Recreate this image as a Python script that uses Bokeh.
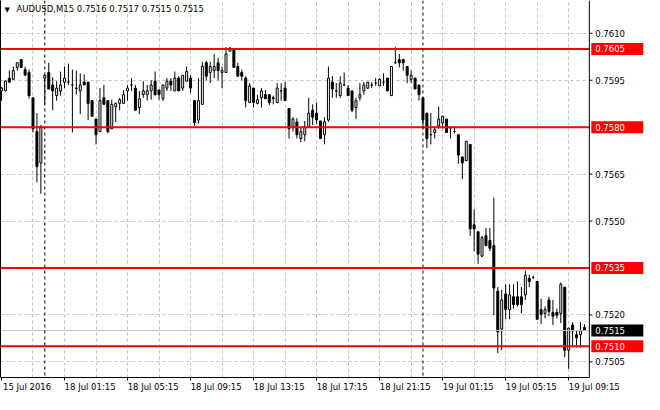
from bokeh.plotting import figure
from bokeh.models import Range1d, FixedTicker, LinearAxis, Span, Label, ColumnDataSource
from bokeh.core.properties import value
from bokeh.embed import file_html
from bokeh.resources import INLINE

symbol = "AUDUSD,M15"

# M15 bars, 15 Jul 2016 21:15 .. 19 Jul 2016 10:15
open_ = [0.75916, 0.75916, 0.75957, 0.75953, 0.75991, 0.76016, 0.75984, 0.75975, 0.75894, 0.75786,
         0.75686, 0.75957, 0.75975, 0.75935, 0.75901, 0.75916, 0.75944, 0.75944, 0.75935, 0.75925,
         0.75916, 0.75944, 0.75944, 0.75885, 0.75826, 0.75786, 0.75894, 0.75885, 0.75795, 0.75866,
         0.75876, 0.75876, 0.75916, 0.75935, 0.75925, 0.75863, 0.75904, 0.75904, 0.75916, 0.75947,
         0.75919, 0.75891, 0.75925, 0.75947, 0.75916, 0.75957, 0.75925, 0.75947, 0.75957, 0.75885,
         0.75823, 0.75873, 0.76006, 0.75975, 0.75981, 0.76006, 0.75975, 0.75975, 0.76043, 0.76047,
         0.75994, 0.75975, 0.75957, 0.75879, 0.75925, 0.75876, 0.75894, 0.75904, 0.75904, 0.75894,
         0.75879, 0.75916, 0.75925, 0.75860, 0.75801, 0.75817, 0.75764, 0.75776, 0.75801, 0.75854,
         0.75845, 0.75820, 0.75776, 0.75823, 0.75944, 0.75916, 0.75901, 0.75935, 0.75925, 0.75916,
         0.75863, 0.75894, 0.75916, 0.75925, 0.75935, 0.75941, 0.75932, 0.75944, 0.75957, 0.75901,
         0.76006, 0.76016, 0.76016, 0.75994, 0.75953, 0.75957, 0.75935, 0.75894, 0.75845, 0.75776,
         0.75783, 0.75804, 0.75814, 0.75826, 0.75798, 0.75786, 0.75776, 0.75705, 0.75693, 0.75745,
         0.75488, 0.75466, 0.75388, 0.75453, 0.75438, 0.75422, 0.75276, 0.75155, 0.75267, 0.75217,
         0.75258, 0.75258, 0.75258, 0.75264, 0.75317, 0.75320, 0.75307, 0.75217, 0.75205, 0.75248,
         0.75208, 0.75208, 0.75205, 0.75289, 0.75087, 0.75168, 0.75137, 0.75137, 0.75160]
high = [0.75929, 0.75950, 0.75981, 0.75994, 0.76006, 0.76016, 0.75994, 0.75984, 0.75894, 0.75845,
        0.75804, 0.75966, 0.76006, 0.75960, 0.75947, 0.75978, 0.75994, 0.76003, 0.75984, 0.75981,
        0.75972, 0.75969, 0.75944, 0.75885, 0.75826, 0.75925, 0.75935, 0.75885, 0.75888, 0.75879,
        0.75894, 0.75919, 0.75935, 0.75957, 0.75935, 0.75916, 0.75947, 0.75935, 0.75950, 0.75978,
        0.75919, 0.75935, 0.75957, 0.75957, 0.75978, 0.75963, 0.75966, 0.75994, 0.75966, 0.75885,
        0.75957, 0.76009, 0.76012, 0.76009, 0.76034, 0.76022, 0.75994, 0.76056, 0.76056, 0.76047,
        0.76006, 0.75984, 0.75963, 0.75941, 0.75925, 0.75904, 0.75925, 0.75919, 0.75904, 0.75901,
        0.75941, 0.75941, 0.75944, 0.75860, 0.75832, 0.75829, 0.75801, 0.75820, 0.75894, 0.75873,
        0.75879, 0.75820, 0.75832, 0.75994, 0.75963, 0.75941, 0.75963, 0.75975, 0.75935, 0.75916,
        0.75894, 0.75941, 0.75944, 0.75944, 0.75944, 0.75957, 0.75957, 0.75972, 0.75957, 0.75994,
        0.76056, 0.76034, 0.76019, 0.75994, 0.75981, 0.75957, 0.75935, 0.75894, 0.75845, 0.75845,
        0.75804, 0.75866, 0.75835, 0.75826, 0.75804, 0.75804, 0.75776, 0.75705, 0.75755, 0.75745,
        0.75537, 0.75466, 0.75453, 0.75478, 0.75478, 0.75575, 0.75289, 0.75280, 0.75298, 0.75298,
        0.75298, 0.75307, 0.75289, 0.75342, 0.75329, 0.75326, 0.75307, 0.75252, 0.75227, 0.75258,
        0.75248, 0.75220, 0.75304, 0.75289, 0.75158, 0.75177, 0.75149, 0.75177, 0.75170]
low = [0.75885, 0.75916, 0.75944, 0.75953, 0.75981, 0.75991, 0.75966, 0.75891, 0.75783, 0.75624,
       0.75587, 0.75873, 0.75922, 0.75854, 0.75885, 0.75901, 0.75925, 0.75935, 0.75783, 0.75904,
       0.75842, 0.75935, 0.75823, 0.75835, 0.75745, 0.75786, 0.75873, 0.75780, 0.75795, 0.75817,
       0.75854, 0.75876, 0.75885, 0.75916, 0.75854, 0.75842, 0.75894, 0.75885, 0.75888, 0.75901,
       0.75888, 0.75885, 0.75916, 0.75916, 0.75916, 0.75916, 0.75916, 0.75947, 0.75910, 0.75804,
       0.75811, 0.75873, 0.75950, 0.75941, 0.75957, 0.75950, 0.75925, 0.75975, 0.76043, 0.75991,
       0.75963, 0.75950, 0.75863, 0.75879, 0.75863, 0.75873, 0.75863, 0.75891, 0.75870, 0.75873,
       0.75879, 0.75885, 0.75885, 0.75764, 0.75786, 0.75764, 0.75752, 0.75755, 0.75801, 0.75807,
       0.75811, 0.75764, 0.75745, 0.75817, 0.75894, 0.75894, 0.75894, 0.75932, 0.75901, 0.75848,
       0.75826, 0.75885, 0.75904, 0.75922, 0.75925, 0.75932, 0.75932, 0.75932, 0.75916, 0.75901,
       0.76003, 0.75991, 0.75981, 0.75941, 0.75941, 0.75922, 0.75885, 0.75795, 0.75733, 0.75745,
       0.75764, 0.75795, 0.75795, 0.75783, 0.75764, 0.75780, 0.75683, 0.75634, 0.75693, 0.75453,
       0.75404, 0.75363, 0.75385, 0.75419, 0.75404, 0.75199, 0.75078, 0.75087, 0.75186, 0.75186,
       0.75220, 0.75227, 0.75205, 0.75248, 0.75289, 0.75314, 0.75186, 0.75171, 0.75189, 0.75196,
       0.75168, 0.75189, 0.75174, 0.75065, 0.75028, 0.75096, 0.75096, 0.75096, 0.75150]
close = [0.75925, 0.75947, 0.75944, 0.75981, 0.76006, 0.75991, 0.75966, 0.75901, 0.75795, 0.75674,
         0.75804, 0.75966, 0.75922, 0.75916, 0.75925, 0.75935, 0.75957, 0.75944, 0.75935, 0.75924,
         0.75935, 0.75935, 0.75876, 0.75835, 0.75776, 0.75885, 0.75873, 0.75786, 0.75873, 0.75876,
         0.75888, 0.75904, 0.75925, 0.75935, 0.75854, 0.75891, 0.75916, 0.75916, 0.75935, 0.75904,
         0.75904, 0.75935, 0.75947, 0.75935, 0.75957, 0.75916, 0.75966, 0.75978, 0.75925, 0.75814,
         0.75885, 0.75994, 0.75963, 0.75994, 0.75994, 0.75981, 0.75981, 0.76034, 0.76053, 0.75991,
         0.75963, 0.75963, 0.75885, 0.75932, 0.75879, 0.75888, 0.75916, 0.75891, 0.75879, 0.75891,
         0.75925, 0.75916, 0.75885, 0.75795, 0.75826, 0.75776, 0.75786, 0.75801, 0.75845, 0.75832,
         0.75823, 0.75764, 0.75817, 0.75957, 0.75922, 0.75916, 0.75941, 0.75935, 0.75901, 0.75854,
         0.75885, 0.75904, 0.75935, 0.75944, 0.75935, 0.75941, 0.75953, 0.75944, 0.75916, 0.75994,
         0.76006, 0.76006, 0.76006, 0.75966, 0.75966, 0.75922, 0.75904, 0.75823, 0.75764, 0.75776,
         0.75792, 0.75826, 0.75835, 0.75783, 0.75798, 0.75786, 0.75711, 0.75686, 0.75755, 0.75475,
         0.75475, 0.75394, 0.75447, 0.75422, 0.75413, 0.75286, 0.75146, 0.75248, 0.75217, 0.75264,
         0.75233, 0.75233, 0.75233, 0.75326, 0.75307, 0.75320, 0.75186, 0.75202, 0.75217, 0.75211,
         0.75196, 0.75199, 0.75298, 0.75087, 0.75158, 0.75149, 0.75127, 0.75149, 0.75150]

# time axis labels (bar index -> text), day separators, horizontal levels
tick_bars = [0, 16, 32, 48, 64, 80, 96, 112, 128, 144]
tick_labels = ["15 Jul 2016", "18 Jul 01:15", "18 Jul 05:15", "18 Jul 09:15",
               "18 Jul 13:15", "18 Jul 17:15", "18 Jul 21:15", "19 Jul 01:15",
               "19 Jul 05:15", "19 Jul 09:15"]
day_breaks = [11, 107]
levels = [0.7605, 0.7580, 0.7535, 0.7510]
price_ticks = [0.7505, 0.7520, 0.7550, 0.7565, 0.7595, 0.7610]
price_grid = [0.7505, 0.7520, 0.7535, 0.7550, 0.7565, 0.7580, 0.7595, 0.7610]

FONT = "DejaVu Sans"
FSIZE = "8.5px"
GRID = "#c0c0c0"

bars = list(range(len(open_)))
src = ColumnDataSource(data=dict(
    x=bars, high=high, low=low,
    top=[max(o, c) for o, c in zip(open_, close)],
    bottom=[min(o, c) for o, c in zip(open_, close)],
    fill=["white" if c > o else "black" for o, c in zip(open_, close)]))

# bars are drawn up to axis_x; the price scale sits right of it, inside the frame
axis_x = len(bars) + 0.25
x_end = axis_x + 14
y0, y1 = 0.7500, 0.76205

p = figure(width=644, height=394, output_backend="svg", toolbar_location=None,
           x_range=Range1d(-0.25, x_end), y_range=Range1d(y0, y1),
           min_border_left=0, min_border_right=0, min_border_top=0,
           min_border_bottom=0, outline_line_color=None,
           background_fill_color="white", border_fill_color="white")

# left edge: axis line only
p.yaxis.ticker = FixedTicker(ticks=[])
p.yaxis.axis_line_color = "black"

# time axis: line + small ticks, then a second axis carrying the labels
p.xaxis.ticker = FixedTicker(ticks=[], minor_ticks=tick_bars)
p.xaxis.bounds = (-0.25, axis_x)
p.xaxis.axis_line_color = "black"
p.xaxis.minor_tick_line_color = "black"
p.xaxis.minor_tick_in = 0
p.xaxis.minor_tick_out = 3
label_pos = [b + 6.5 for b in tick_bars]
lab_axis = LinearAxis(ticker=FixedTicker(ticks=label_pos),
                      major_label_overrides=dict(zip(label_pos, tick_labels)),
                      axis_line_color=None, major_tick_line_color=None,
                      minor_tick_line_color=None, major_tick_in=0, major_tick_out=0,
                      major_label_standoff=1, major_label_text_font=FONT,
                      major_label_text_font_size=FSIZE, major_label_text_color="black")
p.add_layout(lab_axis, "below")

# grid
p.xgrid.ticker = FixedTicker(ticks=list(range(8, len(bars), 8)))
p.ygrid.ticker = FixedTicker(ticks=price_grid)
for g in (p.xgrid, p.ygrid):
    g.grid_line_color = GRID
    g.grid_line_dash = "3 3"
    g.grid_line_width = 1

# price scale area (covers the grid)
p.quad(left=[axis_x], right=[x_end], bottom=[y0], top=[y1], fill_color="white",
       line_color=None)

for d in day_breaks:
    p.add_layout(Span(location=d, dimension="height", line_color="black",
                      line_dash="3 3", line_width=1))

# candles
p.segment(x0="x", x1="x", y0="low", y1="high", source=src, line_color="black",
          line_width=1)
p.vbar(x="x", width=0.5, top="top", bottom="bottom", source=src,
       fill_color="fill", line_color="black", line_width=1)

# current price line and horizontal levels
p.segment(x0=[-0.25], x1=[axis_x], y0=[close[-1]], y1=[close[-1]],
          line_color=GRID, line_width=1)
p.segment(x0=[-0.25] * len(levels), x1=[axis_x] * len(levels), y0=levels,
          y1=levels, line_color="#ff0000", line_width=2)

# price scale: axis line, ticks, labels
p.segment(x0=[axis_x], x1=[axis_x], y0=[y0], y1=[y1], line_color="black",
          line_width=1)
p.segment(x0=[axis_x] * len(price_ticks), x1=[axis_x + 0.8] * len(price_ticks),
          y0=price_ticks, y1=price_ticks, line_color="black", line_width=1)
p.text(x=[axis_x + 1.5] * len(price_ticks), y=price_ticks,
       text=["%.4f" % t for t in price_ticks], text_font=value(FONT),
       text_font_size=FSIZE, text_color="black", text_align="left",
       text_baseline="middle")

# tags for the levels and the last price
tag_y = levels + [close[-1]]
tag_fill = ["#ff0000"] * len(levels) + ["black"]
p.rect(x=[axis_x + 7.1] * len(tag_y), y=tag_y, width=13.2, height=12,
       height_units="screen", fill_color=tag_fill, line_color=None)
p.text(x=[axis_x + 1.5] * len(tag_y), y=tag_y, text=["%.4f" % t for t in tag_y],
       text_font=value(FONT), text_font_size=FSIZE, text_color="white",
       text_align="left", text_baseline="middle")

# header
p.add_layout(Label(x=-0.25, y=y1, x_offset=4, y_offset=-5, text="\u25bc",
                   text_font=FONT, text_font_size="7px", text_color="black",
                   text_align="left", text_baseline="top"))
header = "%s  %.4f %.4f %.4f %.4f" % (symbol, open_[-1], high[-1], low[-1], close[-1])
p.add_layout(Label(x=-0.25, y=y1, x_offset=16, y_offset=-3, text=header,
                   text_font=FONT, text_font_size=FSIZE, text_color="black",
                   text_align="left", text_baseline="top"))

open("out.html", "w").write(file_html(p, INLINE))
